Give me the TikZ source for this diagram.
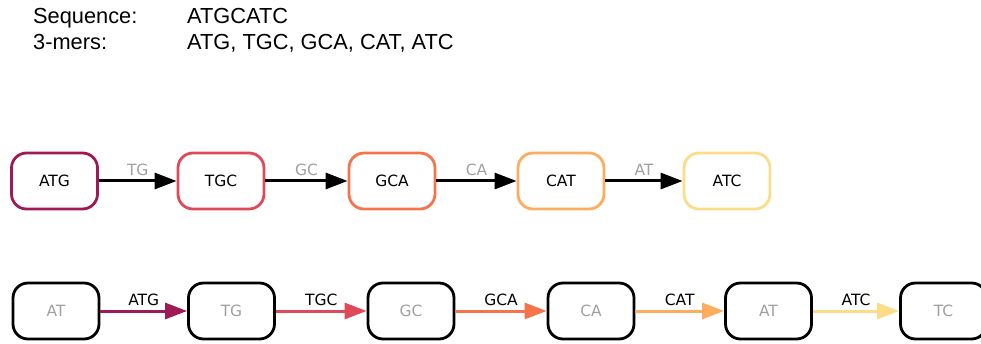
\documentclass[tikz,border=0pt]{standalone}
\usepackage{fontspec}
\setmainfont{DejaVu Sans}
\newfontfamily\hdrfont{Liberation Sans}
\usetikzlibrary{arrows.meta}
\definecolor{cA}{HTML}{9E1A56}
\definecolor{cB}{HTML}{DE4A5A}
\definecolor{cC}{HTML}{F6744B}
\definecolor{cD}{HTML}{FCAD60}
\definecolor{cE}{HTML}{FDDC88}
\definecolor{lbl}{HTML}{A0A0A0}
\tikzset{
  kbox/.style={draw, line width=2.8pt, rounded corners=15pt, minimum width=86pt, minimum height=56pt, inner sep=0pt, font=\fontsize{15.5}{17}\selectfont},
  tnode/.style={kbox, text=black},
  bnode/.style={kbox, draw=black, text=lbl},
  karrow/.style={line width=3pt, -{Triangle[length=22pt,width=16pt]}},
  elbl/.style={midway, above=4pt, inner sep=0pt, font=\fontsize{15.5}{17}\selectfont},
  hdr/.style={anchor=base west, inner sep=0pt, font=\hdrfont\fontsize{21.8}{24}\selectfont}
}
\begin{document}
\begin{tikzpicture}[x=1pt,y=-1pt]
\useasboundingbox (0,0) rectangle (981,344);
\clip (0,0) rectangle (981,344);
\node[hdr] (s1) at (33,24) {Sequence:};
\node[hdr] (s2) at (187,24) {ATGCATC};
\node[hdr] (m1) at (33,50) {3-mers:};
\node[hdr] (m2) at (187,50) {ATG, TGC, GCA, CAT, ATC};
% top row
\node[tnode, draw=cA] (t1) at (54.5,181) {ATG};
\node[tnode, draw=cB] (t2) at (221,181) {TGC};
\node[tnode, draw=cC] (t3) at (392,181) {GCA};
\node[tnode, draw=cD] (t4) at (561,181) {CAT};
\node[tnode, draw=cE] (t5) at (727,181) {ATC};
\draw[karrow] (t1) -- node[elbl, text=lbl] {TG} (t2);
\draw[karrow] (t2) -- node[elbl, text=lbl] {GC} (t3);
\draw[karrow] (t3) -- node[elbl, text=lbl] {CA} (t4);
\draw[karrow] (t4) -- node[elbl, text=lbl] {AT} (t5);
% bottom row
\node[bnode] (b1) at (56,311) {AT};
\node[bnode] (b2) at (231.5,311) {TG};
\node[bnode] (b3) at (411,311) {GC};
\node[bnode] (b4) at (591,311) {CA};
\node[bnode] (b5) at (768.5,311) {AT};
\node[bnode] (b6) at (943.5,311) {TC};
\draw[karrow, cA] (b1) -- node[elbl, text=black] {ATG} (b2);
\draw[karrow, cB] (b2) -- node[elbl, text=black] {TGC} (b3);
\draw[karrow, cC] (b3) -- node[elbl, text=black] {GCA} (b4);
\draw[karrow, cD] (b4) -- node[elbl, text=black] {CAT} (b5);
\draw[karrow, cE] (b5) -- node[elbl, text=black] {ATC} (b6);
\end{tikzpicture}
\end{document}
